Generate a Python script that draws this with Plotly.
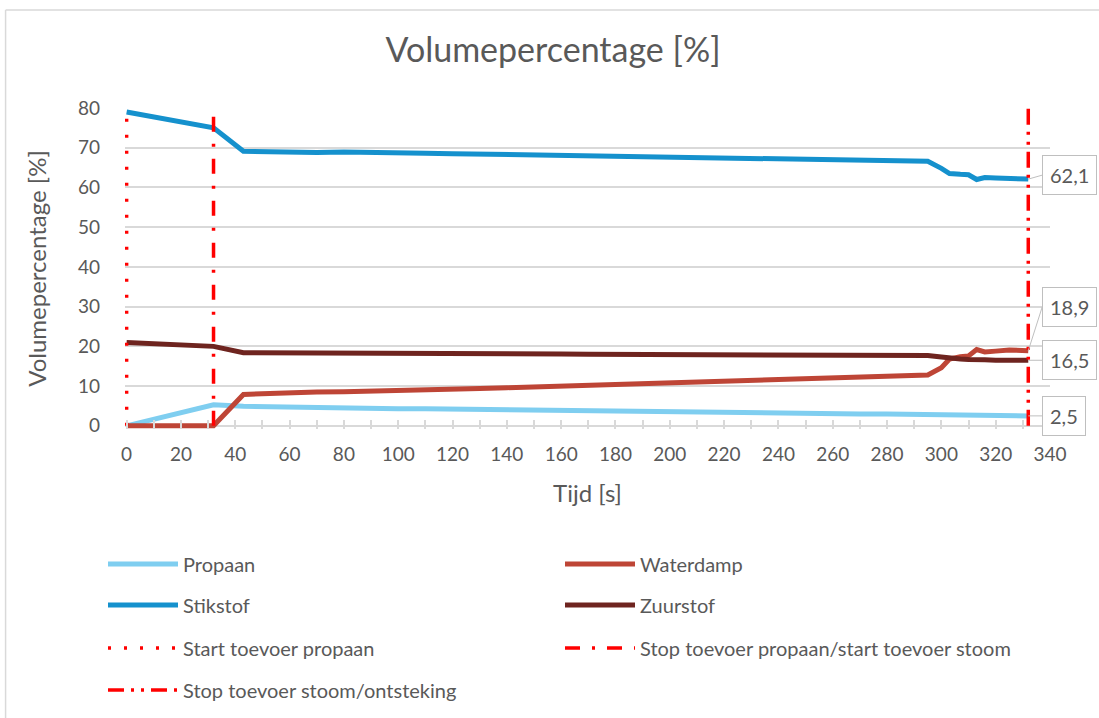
import plotly.graph_objects as go

# ---------------- data ----------------
tijd = [0, 32, 43, 50, 60, 70, 80, 90, 100, 110, 120, 130, 140, 150, 160, 170, 180,
        190, 200, 210, 220, 230, 240, 250, 260, 270, 280, 290,
        295, 300, 303, 307, 310, 313, 316, 320, 325, 332]

propaan = [0, 5.3, 4.9, 4.8, 4.7, 4.6, 4.5, 4.4, 4.3, 4.3, 4.2, 4.1, 4.0, 4.0, 3.9, 3.8, 3.7,
           3.7, 3.6, 3.5, 3.4, 3.4, 3.3, 3.2, 3.1, 3.0, 3.0, 2.9,
           2.9, 2.8, 2.8, 2.7, 2.7, 2.6, 2.6, 2.6, 2.5, 2.5]

waterdamp = [0, 0, 7.9, 8.1, 8.3, 8.5, 8.6, 8.7, 9.0, 9.1, 9.2, 9.4, 9.6, 9.8, 10.0, 10.2, 10.5,
             10.7, 10.9, 11.1, 11.3, 11.5, 11.8, 12.0, 12.1, 12.3, 12.5, 12.7,
             12.8, 14.6, 16.8, 17.4, 17.6, 19.2, 18.6, 18.8, 19.1, 18.9]

stikstof = [79.0, 75.0, 69.1, 69.0, 68.9, 68.8, 68.9, 68.7, 68.6, 68.6, 68.5, 68.4, 68.2, 68.2, 68.1, 68.0, 67.8,
            67.7, 67.7, 67.6, 67.4, 67.3, 67.2, 67.0, 67.0, 66.9, 66.8, 66.7,
            66.6, 64.8, 63.5, 63.3, 63.2, 62.0, 62.5, 62.4, 62.3, 62.1]

zuurstof = [21.0, 20.0, 18.4, 18.4, 18.3, 18.3, 18.3, 18.3, 18.2, 18.2, 18.2, 18.2, 18.1, 18.1, 18.1, 18.0, 18.0,
            18.0, 18.0, 18.0, 17.9, 17.9, 17.9, 17.9, 17.8, 17.8, 17.8, 17.8,
            17.7, 17.3, 17.0, 16.8, 16.7, 16.5, 16.6, 16.5, 16.5, 16.5]

event_names = ["Start toevoer propaan", "Stop toevoer propaan/start toevoer stoom",
               "Stop toevoer stoom/ontsteking"]
event_times = [0, 32, 332]
event_span = [0, 80]

series_names = ["Propaan", "Waterdamp", "Stikstof", "Zuurstof"]
series_values = [propaan, waterdamp, stikstof, zuurstof]

x_ticks = list(range(0, 341, 20))
y_ticks = list(range(0, 81, 10))

# ---------------- styling ----------------
FONT = "Lato"
TXT = "#595959"
GRID = "#D9D9D9"
series_colors = ["#7FCEF0", "#BE4536", "#1591CD", "#6E241F"]
series_legends = ["legend", "legend", "legend2", "legend2"]
event_dash = ["3px,13px", "15px,12px,3px,12px", "16px,7px,3px,7px,3px,7px"]
event_legends = ["legend3", "legend3", "legend4"]

W, H = 1099, 718
XMIN, XMAX = -0.6, 340
YMIN, YMAX = -0.8, 80
X0PX, X340PX = 127, 1050
Y0PX, Y80PX = 426, 108
sx = (X340PX - X0PX) / 340.0
sy = (Y0PX - Y80PX) / 80.0
L = X0PX + XMIN * sx
R = X340PX
T = Y80PX
B = Y0PX - YMIN * sy


def px_x(p):
    return (p - L) / (R - L)


def px_y(p):
    return (B - p) / (B - T)


fig = go.Figure()

for name, vals, col, lg in zip(series_names, series_values, series_colors, series_legends):
    fig.add_trace(go.Scatter(x=tijd, y=vals, name=name, mode="lines",
                             line=dict(color=col, width=5), legend=lg))

for name, tt, dash, lg in zip(event_names, event_times, event_dash, event_legends):
    fig.add_trace(go.Scatter(x=[tt, tt], y=event_span, name=name, mode="lines",
                             line=dict(color="#FF0000", width=3.5, dash=dash), legend=lg))

# data labels at the last point
label_offsets = {"Propaan": (14, 0), "Waterdamp": (14, -44), "Stikstof": (14, -4), "Zuurstof": (14, 0)}
for name, vals in zip(series_names, series_values):
    ax, ay = label_offsets[name]
    fig.add_annotation(x=tijd[-1], y=vals[-1], text=f"{vals[-1]:.1f}".replace(".", ","),
                       showarrow=True, arrowhead=0, arrowwidth=1, arrowcolor="#BFBFBF",
                       ax=ax, ay=ay, xanchor="left", yanchor="middle",
                       bgcolor="white", bordercolor="#BFBFBF", borderwidth=1,
                       borderpad=7, font=dict(family=FONT, size=20, color=TXT))

# chart-area border
fig.add_shape(type="line", xref="paper", yref="paper", x0=px_x(6), x1=px_x(1105),
              y0=px_y(10), y1=px_y(10), line=dict(color=GRID, width=1.5))
fig.add_shape(type="line", xref="paper", yref="paper", x0=px_x(6), x1=px_x(6),
              y0=px_y(10), y1=px_y(725), line=dict(color=GRID, width=1.5))

legend_common = dict(orientation="h", xanchor="left", yanchor="middle",
                     xref="container", yref="container",
                     entrywidth=372, entrywidthmode="pixels", itemwidth=70,
                     font=dict(family=FONT, size=20, color=TXT), bgcolor="rgba(0,0,0,0)")
rows_y = [564, 605, 648, 690]
LEG_X = 103

fig.update_layout(
    width=W, height=H,
    margin=dict(l=L, r=W - R, t=T, b=H - B, autoexpand=False),
    paper_bgcolor="white", plot_bgcolor="white",
    font=dict(family=FONT, color=TXT),
    title=dict(text="Volumepercentage [%]", x=553 / W, xanchor="center", y=1 - 50 / H,
               yanchor="middle", xref="container", yref="container",
               font=dict(family=FONT, size=34, color=TXT)),
    xaxis=dict(range=[XMIN, XMAX], tickvals=x_ticks, ticks="inside", ticklen=9, tickcolor=GRID,
               tickwidth=1.5, showgrid=False, showline=False, zeroline=False, automargin=False,
               minor=dict(dtick=10, ticks="inside", ticklen=9, tickcolor=GRID, tickwidth=1.5,
                          showgrid=False),
               tickfont=dict(family=FONT, size=19, color=TXT), ticklabelstandoff=12,
               title=dict(text="Tijd [s]", font=dict(family=FONT, size=24, color=TXT), standoff=21)),
    yaxis=dict(range=[YMIN, YMAX], tickvals=y_ticks, showgrid=True, gridcolor=GRID, gridwidth=1.5,
               zeroline=True, zerolinecolor=GRID, zerolinewidth=1.5, showline=False, ticks="",
               automargin=False,
               tickfont=dict(family=FONT, size=19, color=TXT), ticklabelstandoff=24,
               title=dict(text="Volumepercentage [%]", font=dict(family=FONT, size=24, color=TXT),
                          standoff=24)),
    legend=dict(x=LEG_X / W, y=1 - rows_y[0] / H, **legend_common),
    legend2=dict(x=LEG_X / W, y=1 - rows_y[1] / H, **legend_common),
    legend3=dict(x=LEG_X / W, y=1 - rows_y[2] / H, **legend_common),
    legend4=dict(x=LEG_X / W, y=1 - rows_y[3] / H, **legend_common),
)

fig.write_html("out.html", config={"displayModeBar": False},
               post_script="document.body.style.margin='0';")
